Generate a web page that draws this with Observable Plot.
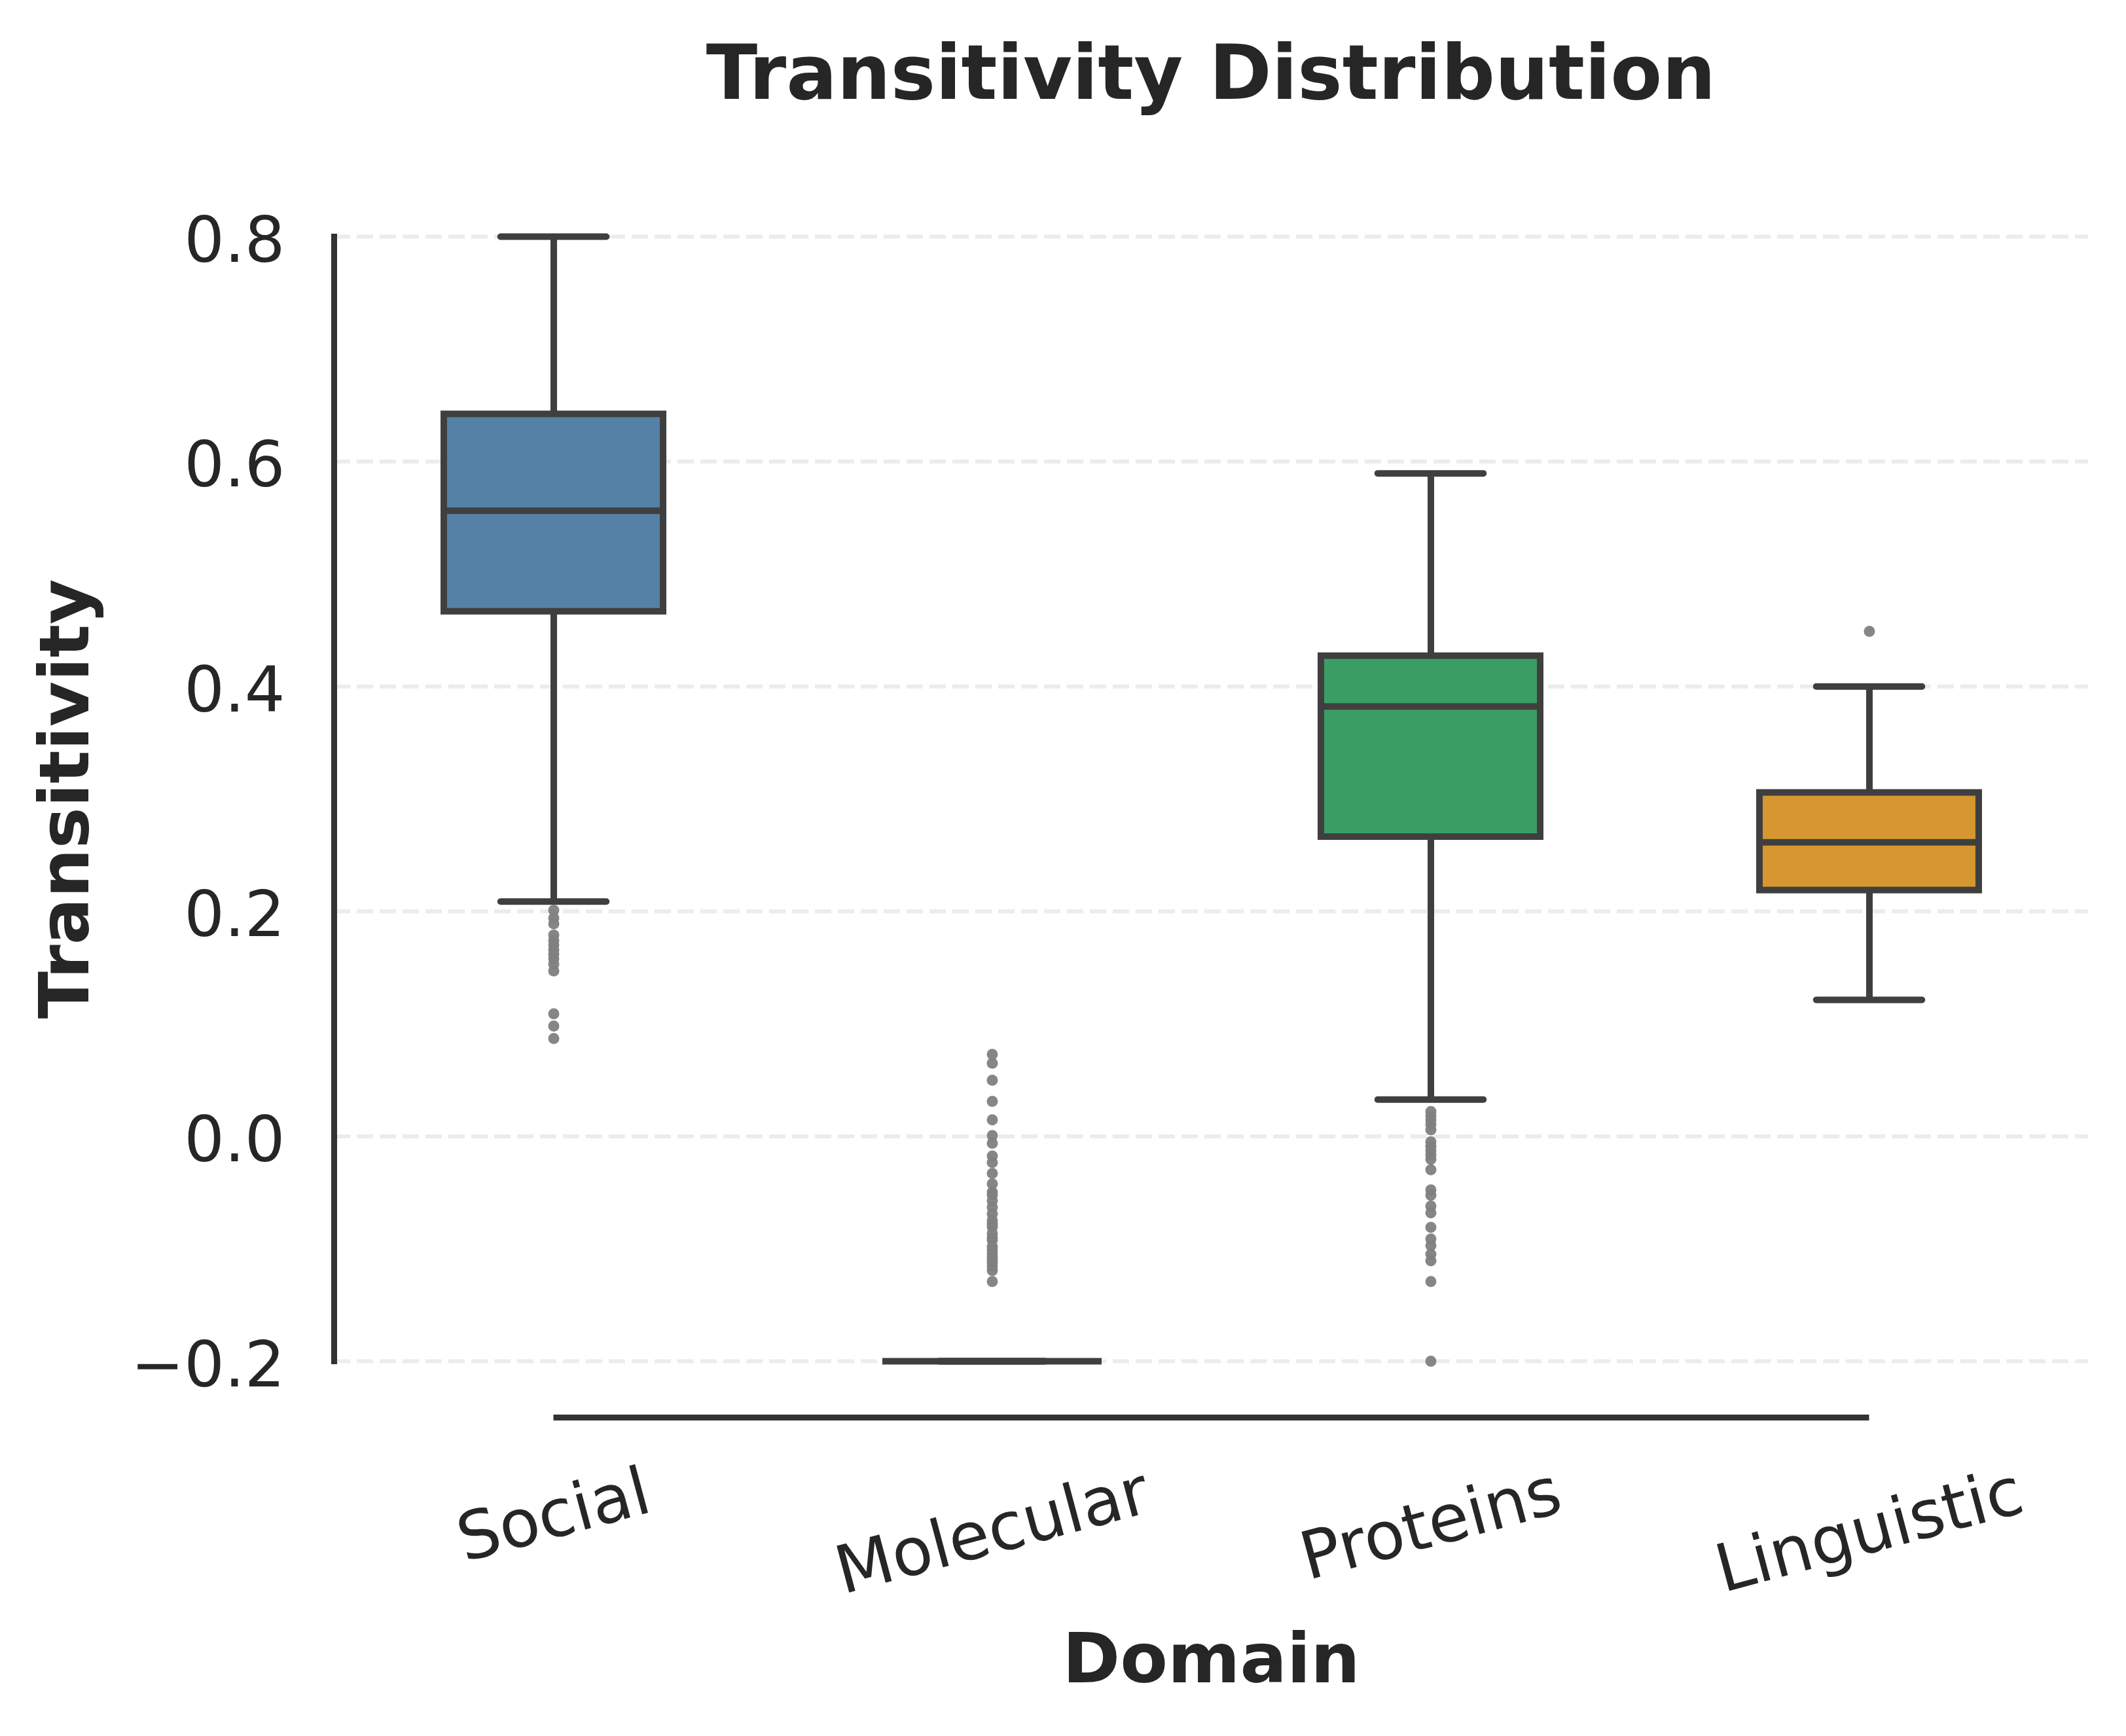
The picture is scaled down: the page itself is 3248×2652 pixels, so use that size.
<!DOCTYPE html>
<html><head><meta charset="utf-8">
<script src="https://cdn.jsdelivr.net/npm/d3@7"></script>
<script src="https://cdn.jsdelivr.net/npm/@observablehq/plot@0.6"></script>
<style>
html,body{margin:0;padding:0;background:#fff;}
#title{position:relative;height:260px;width:3248px;}
#title div{position:absolute;left:510px;width:2680px;top:54px;text-align:center;font-family:"DejaVu Sans";font-weight:bold;font-size:115px;line-height:115px;color:#262626;}
#chart{width:3248px;height:2392px;}
</style></head><body>
<div id="title"><div>Transitivity Distribution</div></div>
<div id="chart"></div>
<script>
// ---- data ----
const domains = ["Social", "Molecular", "Proteins", "Linguistic"];
const q1Values     = [0.4666, -0.2, 0.2662, 0.2187];
const medianValues = [0.5563, -0.2, 0.3822, 0.2614];
const q3Values     = [0.6421, -0.2, 0.4271, 0.3055];
const whiskerLow   = [0.2088, -0.2, 0.0327, 0.1213];
const whiskerHigh  = [0.8000, -0.2, 0.5895, 0.4000];
const boxColors    = ["#5581a7", "#c44e52", "#3a9e64", "#d69630"];

const socialOutliers = [0.201, 0.194, 0.189, 0.179, 0.174, 0.170, 0.166, 0.162, 0.158, 0.153, 0.147, 0.109, 0.098, 0.087];
const molecularOutliers = [0.0728, 0.0650, 0.0499, 0.0311, 0.0146, 0.0006, -0.0062, -0.0175, -0.0233, -0.0330, -0.0423,
  -0.0495, -0.0520, -0.0573, -0.0631, -0.0689, -0.0747, -0.0780, -0.0806, -0.0864, -0.0900, -0.0922, -0.0980,
  -0.1010, -0.1039, -0.1070, -0.1097, -0.1120, -0.1155, -0.1194, -0.1291];
const proteinsOutliers = [0.0220, 0.0180, 0.0146, 0.0107, 0.0058, -0.0049, -0.0090, -0.0126, -0.0165, -0.0204, -0.0297,
  -0.0476, -0.0524, -0.0621, -0.0680, -0.0810, -0.0913, -0.0971, -0.1048, -0.1107, -0.1291, -0.2000];
const linguisticOutliers = [0.449];

const yTicks = [-0.2, 0.0, 0.2, 0.4, 0.6, 0.8];

// ---- tables built from arrays ----
const stats = domains.map((d, i) => ({
  domain: d, q1: q1Values[i], median: medianValues[i], q3: q3Values[i],
  lo: whiskerLow[i], hi: whiskerHigh[i], color: boxColors[i]
}));
const outliers = [
  ...socialOutliers.map(v => ({domain: "Social", value: v})),
  ...molecularOutliers.map(v => ({domain: "Molecular", value: v})),
  ...proteinsOutliers.map(v => ({domain: "Proteins", value: v})),
  ...linguisticOutliers.map(v => ({domain: "Linguistic", value: v}))
];

// ---- layout ----
const W = 3248, H = 2392;
const mL = 510, mR = 58, mT = 101, mB = 573;
const step = (W - mL - mR) / domains.length;
const bw = step * 0.5;
const tickFont = 97, xTickFont = 101, labelFont = 106;
const lineColor = "#3f3f3f";

const ctx = document.createElement("canvas").getContext("2d");
ctx.font = `${xTickFont}px "DejaVu Sans"`;
const rad = 15 * Math.PI / 180;
const tickLabelMarks = domains.map(d => {
  const w = ctx.measureText(d).width;
  const dy = 141 + (w * Math.sin(rad) + 1.164 * xTickFont * Math.cos(rad)) / 2;
  return Plot.text([d], {x: v => v, frameAnchor: "bottom", dy, rotate: -15, textAnchor: "middle", lineAnchor: "middle", fontSize: xTickFont, fill: "#262626"});
});

const chart = Plot.plot({
  width: W, height: H,
  marginLeft: mL, marginRight: mR, marginTop: mT, marginBottom: mB,
  style: {fontFamily: "DejaVu Sans", color: "#262626", background: "white", overflow: "visible"},
  x: {type: "band", domain: domains, paddingInner: 0.5, paddingOuter: 0.25, axis: null},
  y: {domain: [-0.2, 0.8], axis: null},
  marks: [
    Plot.gridY(yTicks, {stroke: "#ececec", strokeOpacity: 1, strokeWidth: 6, strokeDasharray: "25,10"}),
    Plot.frame({anchor: "left", stroke: "#333333", strokeWidth: 9}),
    Plot.ruleY([-0.2], {x1: () => "Social", x2: () => "Linguistic", dy: 86, insetLeft: bw / 2, insetRight: bw / 2, stroke: "#333333", strokeWidth: 9}),
    Plot.ruleX(stats, {x: "domain", y1: "q3", y2: "hi", stroke: lineColor, strokeWidth: 10}),
    Plot.ruleX(stats, {x: "domain", y1: "q1", y2: "lo", stroke: lineColor, strokeWidth: 10}),
    Plot.barY(stats, {x: "domain", y1: "q1", y2: "q3", fill: d => d.color, stroke: lineColor, strokeWidth: 10}),
    Plot.tickY(stats, {x: "domain", y: "median", stroke: lineColor, strokeWidth: 10}),
    Plot.tickY(stats, {x: "domain", y: "hi", stroke: lineColor, strokeWidth: 10, strokeLinecap: "round", insetLeft: bw / 4 + 3, insetRight: bw / 4 + 3}),
    Plot.tickY(stats, {x: "domain", y: "lo", stroke: lineColor, strokeWidth: 10, strokeLinecap: "round", insetLeft: bw / 4 + 3, insetRight: bw / 4 + 3}),
    Plot.dot(outliers, {x: "domain", y: "value", r: 8.5, fill: "#808080", fillOpacity: 0.95, stroke: "none"}),
    Plot.axisY(yTicks, {tickSize: 0, tickPadding: 75, fontSize: tickFont, label: null, tickFormat: d3.format(".1f"), dy: 7, fill: "#262626"}),
    ...tickLabelMarks,
    Plot.text(["Transitivity"], {frameAnchor: "left", rotate: -90, dx: -409, textAnchor: "middle", lineAnchor: "middle", fontSize: labelFont, fontWeight: "bold", fill: "#262626"}),
    Plot.text(["Domain"], {frameAnchor: "bottom", dy: 457, textAnchor: "middle", lineAnchor: "middle", fontSize: labelFont, fontWeight: "bold", fill: "#262626"})
  ]
});
document.getElementById("chart").appendChild(chart);
</script>
</body></html>
